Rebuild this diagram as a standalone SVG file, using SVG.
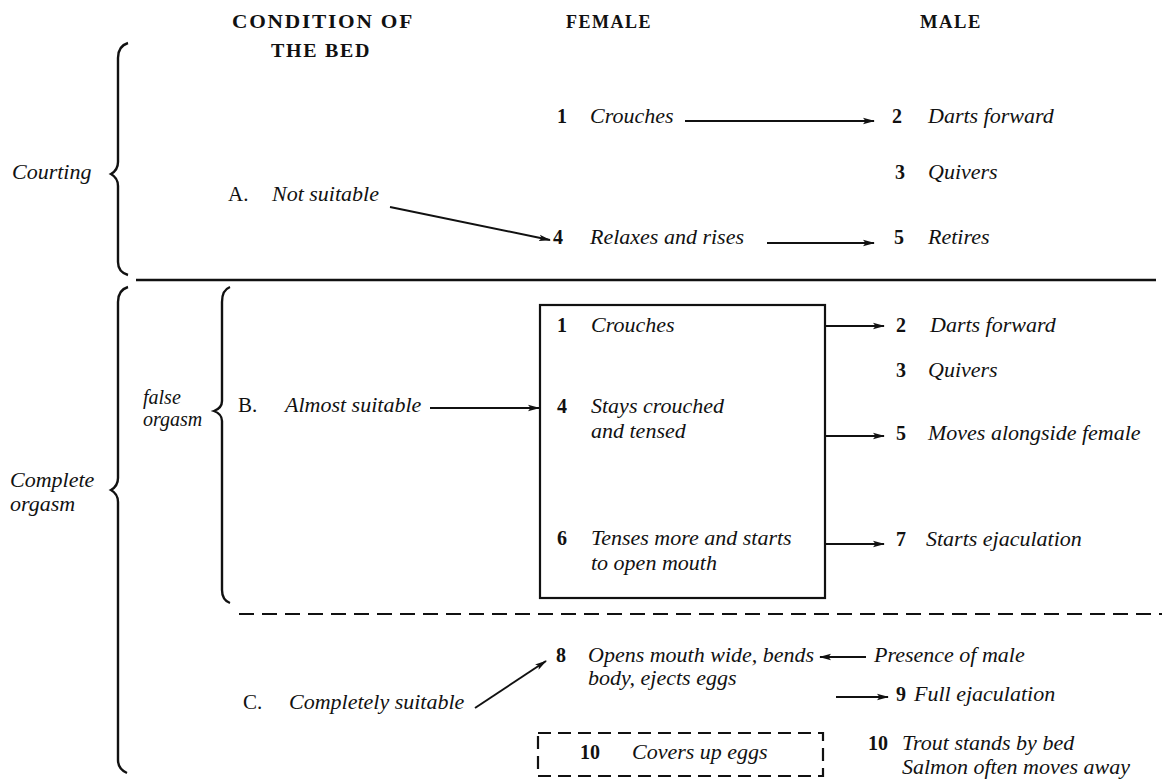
<svg xmlns="http://www.w3.org/2000/svg" width="1170" height="784" viewBox="0 0 1170 784">
<style>
text{font-family:"Liberation Serif","Times New Roman",serif;fill:#111;}
.h{font-weight:bold;font-size:18px;letter-spacing:1.5px;}
.t{font-style:italic;font-size:22px;}
.s{font-style:italic;font-size:20px;}
.n{font-size:20px;font-weight:bold;}
.lbl{font-size:21px;}
.br{fill:none;stroke:#111;stroke-width:2.4;}
.c{fill:none;stroke:#111;stroke-width:2;}
.box{fill:none;stroke:#111;stroke-width:2.2;}
.dash{fill:none;stroke:#111;stroke-width:2.2;stroke-dasharray:15 8;}
</style>
<defs>
<marker id="ah" viewBox="0 0 12 8" refX="11" refY="4" markerWidth="12" markerHeight="8" markerUnits="userSpaceOnUse" orient="auto">
<path d="M0,0.8 L12,4 L0,7.2 L2.5,4 z" fill="#111"/>
</marker>
</defs>
<rect width="1170" height="784" fill="#fff"/>

<g id="headers">
<text class="h" x="232" y="28" textLength="182" lengthAdjust="spacingAndGlyphs">CONDITION OF</text>
<text class="h" x="271" y="57" textLength="100" lengthAdjust="spacingAndGlyphs">THE BED</text>
<text class="h" x="566" y="28" textLength="86" lengthAdjust="spacingAndGlyphs">FEMALE</text>
<text class="h" x="920" y="28" textLength="62" lengthAdjust="spacingAndGlyphs">MALE</text>
</g>

<g id="dividers">
<line x1="136" y1="280" x2="1156" y2="280" stroke="#111" stroke-width="2.4"/>
<line class="dash" x1="239" y1="614" x2="1162" y2="614"/>
</g>

<g id="courting">
<path class="br" d="M128,43 Q118,46 118,58 L118,162 Q118,170 111,174 Q118,178 118,186 L118,262 Q118,272 128,275"/>
<text class="t" x="12" y="179">Courting</text>
</g>

<g id="complete">
<path class="br" d="M128,287 Q118,290 118,302 L118,478 Q118,486 111,490 Q118,494 118,502 L118,760 Q118,769 127,773"/>
<text class="t" x="10" y="487">Complete</text>
<text class="t" x="10" y="511">orgasm</text>
</g>

<g id="false-orgasm">
<path class="br" d="M230,287 Q222,290 222,302 L222,401 Q222,408 214,411 Q222,414 222,421 L222,590 Q222,600 230,603"/>
<text class="s" x="143" y="404">false</text>
<text class="s" x="143" y="426">orgasm</text>
</g>

<g id="condA"><text class="lbl" x="228" y="201">A.</text><text class="t" x="272" y="201">Not suitable</text></g>
<g id="condB"><text class="lbl" x="238" y="412">B.</text><text class="t" x="285" y="412">Almost suitable</text></g>
<g id="condC"><text class="lbl" x="243" y="709">C.</text><text class="t" x="289" y="709">Completely suitable</text></g>

<g id="f1"><text class="n" x="557" y="123">1</text><text class="t" x="590" y="123">Crouches</text></g>
<g id="m2"><text class="n" x="892" y="123">2</text><text class="t" x="928" y="123">Darts forward</text></g>
<g id="m3"><text class="n" x="895" y="179">3</text><text class="t" x="928" y="179">Quivers</text></g>
<g id="f4"><text class="n" x="553" y="244">4</text><text class="t" x="590" y="244">Relaxes and rises</text></g>
<g id="m5"><text class="n" x="894" y="244">5</text><text class="t" x="928" y="244">Retires</text></g>

<g id="boxB">
<rect class="box" x="540" y="305" width="285" height="293"/>
<text class="n" x="557" y="332">1</text><text class="t" x="591" y="332">Crouches</text>
<text class="n" x="557" y="413">4</text><text class="t" x="591" y="413">Stays crouched</text>
<text class="t" x="591" y="438">and tensed</text>
<text class="n" x="557" y="545">6</text><text class="t" x="591" y="545">Tenses more and starts</text>
<text class="t" x="591" y="570">to open mouth</text>
</g>

<g id="mB2"><text class="n" x="896" y="332">2</text><text class="t" x="930" y="332">Darts forward</text></g>
<g id="mB3"><text class="n" x="896" y="377">3</text><text class="t" x="928" y="377">Quivers</text></g>
<g id="mB5"><text class="n" x="896" y="440">5</text><text class="t" x="928" y="440">Moves alongside female</text></g>
<g id="mB7"><text class="n" x="896" y="546">7</text><text class="t" x="926" y="546">Starts ejaculation</text></g>

<g id="f8"><text class="n" x="556" y="662">8</text><text class="t" x="588" y="662">Opens mouth wide, bends</text><text class="t" x="588" y="685">body, ejects eggs</text></g>
<g id="mPresence"><text class="t" x="874" y="662">Presence of male</text></g>
<g id="m9"><text class="n" x="896" y="701">9</text><text class="t" x="914" y="701">Full ejaculation</text></g>

<g id="f10">
<rect class="dash" x="538" y="733" width="285" height="43" style="stroke-dasharray:13 7"/>
<text class="n" x="580" y="759">10</text><text class="t" x="632" y="759">Covers up eggs</text>
</g>
<g id="m10"><text class="n" x="868" y="750">10</text><text class="t" x="902" y="750">Trout stands by bed</text><text class="t" x="902" y="774">Salmon often moves away</text></g>

<g id="connectors">
<line class="c" x1="390" y1="207" x2="550" y2="240" marker-end="url(#ah)"/>
<line class="c" x1="685" y1="121" x2="874" y2="121" marker-end="url(#ah)"/>
<line class="c" x1="767" y1="243" x2="874" y2="243" marker-end="url(#ah)"/>
<line class="c" x1="430" y1="408" x2="539" y2="408" marker-end="url(#ah)"/>
<line class="c" x1="826" y1="326" x2="884" y2="326" marker-end="url(#ah)"/>
<line class="c" x1="826" y1="436" x2="884" y2="436" marker-end="url(#ah)"/>
<line class="c" x1="826" y1="544" x2="884" y2="544" marker-end="url(#ah)"/>
<line class="c" x1="866" y1="657" x2="820" y2="657" marker-end="url(#ah)"/>
<line class="c" x1="836" y1="697" x2="888" y2="697" marker-end="url(#ah)"/>
<line class="c" x1="475" y1="708" x2="546" y2="661" marker-end="url(#ah)"/>
</g>
</svg>
